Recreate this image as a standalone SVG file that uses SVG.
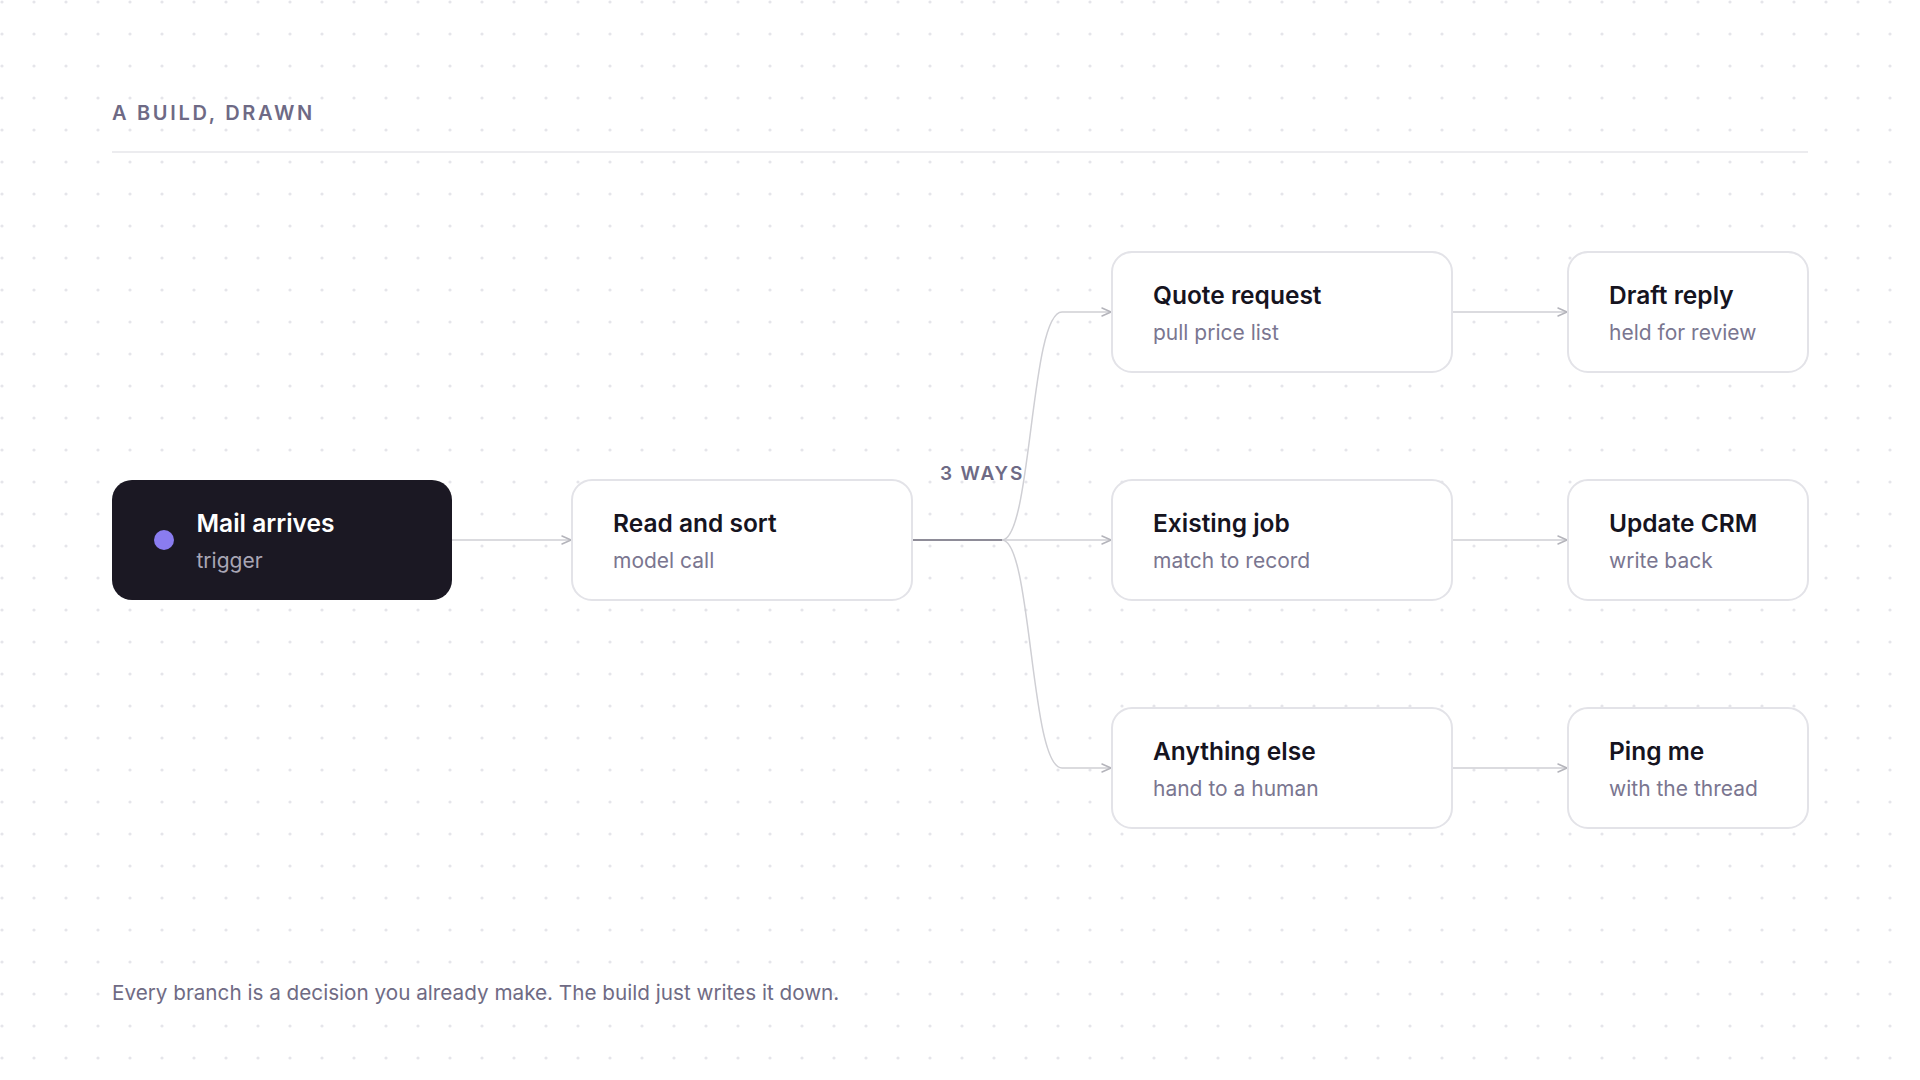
<svg xmlns="http://www.w3.org/2000/svg" width="1920" height="1080" viewBox="0 0 1920 1080">
  <defs>
    <pattern id="dots" patternUnits="userSpaceOnUse" width="32" height="32">
      <circle cx="2" cy="2" r="1.6" fill="#e5e5ea"/>
    </pattern>
    <marker id="arr" markerUnits="userSpaceOnUse" markerWidth="14" markerHeight="12" refX="10" refY="5" orient="auto" overflow="visible">
      <path d="M1,1 L10,5 L1,9" fill="none" stroke="#b4b4bb" stroke-width="1.5" stroke-linecap="round" stroke-linejoin="round"/>
    </marker>
    <style>
      .node { fill: #ffffff; stroke: #e3e3e8; stroke-width: 2; }
      .dark { fill: #1b1823; }
      .t { font-family: Inter, "Noto Sans", "Liberation Sans", sans-serif; font-size: 24.5px; font-weight: 600; fill: #16141f; }
      .s { font-family: Inter, "Noto Sans", "Liberation Sans", sans-serif; font-size: 21px; font-weight: 400; fill: #7a7690; }
      .td { fill: #ffffff; }
      .sd { fill: #a9a6b5; }
      .cap { font-family: Inter, "Noto Sans", "Liberation Sans", sans-serif; font-weight: 600; fill: #6e6a85; }
      .foot { font-family: Inter, "Noto Sans", "Liberation Sans", sans-serif; font-size: 20.7px; fill: #6f6b84; }
      .c { fill: none; stroke: #cfcfd4; stroke-width: 1.5; }
      .ca { marker-end: url(#arr); }
      .cd { fill: none; stroke: #8e8c98; stroke-width: 2; }
    </style>
  </defs>

  <rect width="1920" height="1080" fill="#ffffff"/>
  <rect width="1920" height="1080" fill="url(#dots)"/>

  <g id="header">
    <text class="cap" x="112" y="120" font-size="20" letter-spacing="2.7">A BUILD, DRAWN</text>
    <line x1="112" y1="152" x2="1808" y2="152" stroke="#e6e6ea" stroke-width="1.5"/>
  </g>

  <g id="connectors">
    <path class="c ca" d="M452 540 H571"/>
    <path class="cd" d="M912 540 H1002"/>
    <path class="c ca" d="M1002 540 C1032 540 1030 312 1062 312 H1111"/>
    <path class="c ca" d="M1002 540 H1111"/>
    <path class="c ca" d="M1002 540 C1032 540 1030 768 1062 768 H1111"/>
    <path class="c ca" d="M1452 312 H1567"/>
    <path class="c ca" d="M1452 540 H1567"/>
    <path class="c ca" d="M1452 768 H1567"/>
    <text class="cap" x="940" y="480" font-size="19" letter-spacing="1.8">3 WAYS</text>
  </g>

  <g id="node-mail-arrives">
    <rect class="dark" x="112" y="480" width="340" height="120" rx="20"/>
    <circle cx="164" cy="540" r="10" fill="#8a7cf0"/>
    <text class="t td" x="196.5" y="532">Mail arrives</text>
    <text class="s sd" x="196.5" y="568">trigger</text>
  </g>

  <g id="node-read-and-sort">
    <rect class="node" x="572" y="480" width="340" height="120" rx="20"/>
    <text class="t" x="613" y="532">Read and sort</text>
    <text class="s" x="613" y="568">model call</text>
  </g>

  <g id="node-quote-request">
    <rect class="node" x="1112" y="252" width="340" height="120" rx="20"/>
    <text class="t" x="1153" y="304">Quote request</text>
    <text class="s" x="1153" y="340">pull price list</text>
  </g>

  <g id="node-existing-job">
    <rect class="node" x="1112" y="480" width="340" height="120" rx="20"/>
    <text class="t" x="1153" y="532">Existing job</text>
    <text class="s" x="1153" y="568">match to record</text>
  </g>

  <g id="node-anything-else">
    <rect class="node" x="1112" y="708" width="340" height="120" rx="20"/>
    <text class="t" x="1153" y="760">Anything else</text>
    <text class="s" x="1153" y="796">hand to a human</text>
  </g>

  <g id="node-draft-reply">
    <rect class="node" x="1568" y="252" width="240" height="120" rx="20"/>
    <text class="t" x="1609" y="304">Draft reply</text>
    <text class="s" x="1609" y="340">held for review</text>
  </g>

  <g id="node-update-crm">
    <rect class="node" x="1568" y="480" width="240" height="120" rx="20"/>
    <text class="t" x="1609" y="532">Update CRM</text>
    <text class="s" x="1609" y="568">write back</text>
  </g>

  <g id="node-ping-me">
    <rect class="node" x="1568" y="708" width="240" height="120" rx="20"/>
    <text class="t" x="1609" y="760">Ping me</text>
    <text class="s" x="1609" y="796">with the thread</text>
  </g>

  <g id="footer">
    <text class="foot" x="112" y="1000">Every branch is a decision you already make. The build just writes it down.</text>
  </g>
</svg>
